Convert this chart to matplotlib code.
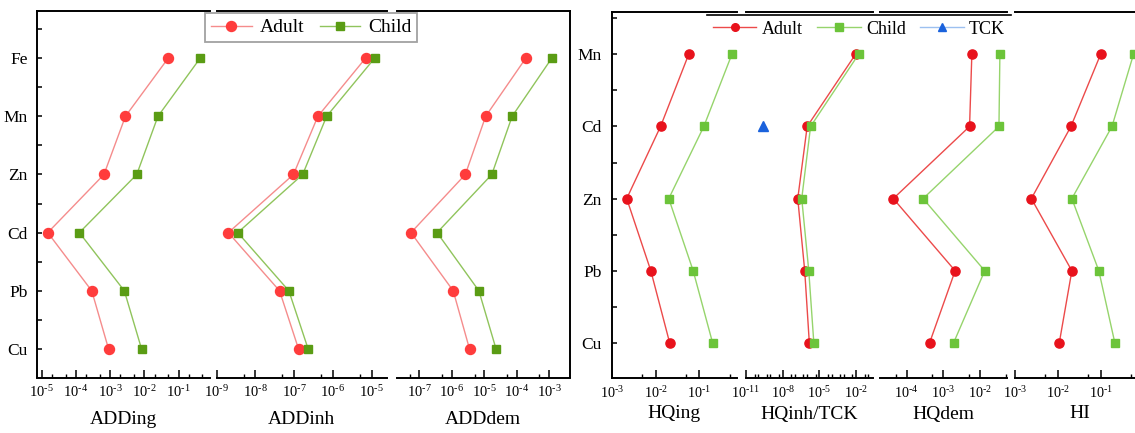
import numpy as np
import matplotlib
matplotlib.use("Agg")
import matplotlib.pyplot as plt
from matplotlib.ticker import FixedLocator, FuncFormatter, NullFormatter
from matplotlib.lines import Line2D

plt.rcParams['font.family'] = ['Liberation Serif', 'DejaVu Serif']
plt.rcParams['mathtext.fontset'] = 'custom'
plt.rcParams['mathtext.rm'] = 'Liberation Serif'
plt.rcParams['mathtext.default'] = 'regular'

# ---------------- data ----------------
left_cats = ['Fe', 'Mn', 'Zn', 'Cd', 'Pb', 'Cu']          # top -> bottom
add_ing_adult = [0.05, 2.8e-3, 6.6e-4, 1.5e-5, 2.9e-4, 9e-4]
add_ing_child = [0.43, 0.025, 6e-3, 1.26e-4, 2.6e-3, 8.3e-3]
add_inh_adult = [7e-6, 4.1e-7, 9.6e-8, 2e-9, 4.2e-8, 1.3e-7]
add_inh_child = [1.2e-5, 6.9e-7, 1.66e-7, 3.5e-9, 7.3e-8, 2.3e-7]
add_dem_adult = [1.9e-4, 1.1e-5, 2.6e-6, 5.5e-8, 1.1e-6, 3.5e-6]
add_dem_child = [1.2e-3, 7.2e-5, 1.7e-5, 3.5e-7, 6.8e-6, 2.3e-5]

right_cats = ['Mn', 'Cd', 'Zn', 'Pb', 'Cu']               # top -> bottom
hq_ing_adult = [0.057, 0.013, 2.2e-3, 7.8e-3, 0.021]
hq_ing_child = [0.55, 0.126, 0.02, 0.072, 0.2]
hq_inh_adult = [9e-3, 1e-6, 1.7e-7, 6.3e-7, 1.5e-6]
hq_inh_child = [0.016, 1.9e-6, 3.6e-7, 1.35e-6, 3.5e-6]
tck_values = [np.nan, 2.5e-10, np.nan, np.nan, np.nan]
hq_dem_adult = [6e-3, 5.2e-3, 4.3e-5, 2.1e-3, 4.2e-4]
hq_dem_child = [0.035, 0.033, 2.8e-4, 0.0135, 1.9e-3]
hi_adult = [0.098, 0.02, 2.4e-3, 0.021, 0.0107]
hi_child = [0.57, 0.18, 0.021, 0.089, 0.21]

left_titles = ['ADDing', 'ADDinh', 'ADDdem']
right_titles = ['HQing', 'HQinh/TCK', 'HQdem', 'HI']

# ---------------- figure ----------------
W, H = 1135, 433
fig = plt.figure(figsize=(W / 100, H / 100), dpi=100)

def make_ax(x0, x1, yt, yb):
    return fig.add_axes([x0 / W, 1 - yb / H, (x1 - x0) / W, (yb - yt) / H])

def make_fmt(shown):
    def fmt_pow(v, p):
        e = int(round(np.log10(v)))
        if e not in shown:
            return ''
        if e < 0:
            return r'$10^{\text{-}%d}$' % (-e)
        return r'$10^{%d}$' % e
    return fmt_pow

def style_ax(ax, xlim, label_exps, minor_exps, first, last, ncat, ylim, xlabel, label_y,
             ticklab_size=10.5, xlab_size=14.0, shown=None):
    ax.set_xscale('log')
    ax.set_xlim(10 ** xlim[0], 10 ** xlim[1])
    ax.set_ylim(*ylim)
    for s in ['top', 'bottom', 'left', 'right']:
        ax.spines[s].set_linewidth(1.4)
    ax.spines['left'].set_visible(first)
    ax.spines['right'].set_visible(last)
    ax.xaxis.set_major_locator(FixedLocator([10.0 ** e for e in label_exps]))
    ax.xaxis.set_major_formatter(FuncFormatter(make_fmt(shown if shown else label_exps)))
    ax.xaxis.set_minor_locator(FixedLocator(minor_exps))
    ax.xaxis.set_minor_formatter(NullFormatter())
    ax.tick_params(axis='x', which='major', direction='in', length=5.5, width=1.1,
                   labelsize=ticklab_size, pad=5, top=False)
    ax.tick_params(axis='x', which='minor', direction='in', length=3, width=1.0, top=False)
    if first:
        ax.yaxis.set_major_locator(FixedLocator(range(ncat)))
        ax.yaxis.set_minor_locator(FixedLocator([i + 0.5 for i in range(ncat)]))
        ax.tick_params(axis='y', which='both', direction='in', length=3.5, width=1.1,
                       labelsize=12.5, pad=7, right=False)
    else:
        ax.tick_params(axis='y', which='both', left=False, right=False, labelleft=False)
    ax.set_xlabel(xlabel, fontsize=xlab_size)
    ax.xaxis.label.set_va('center')
    ax.xaxis.set_label_coords(0.5, label_y)
    ax.set_facecolor('none')

# ---------------- left panel ----------------
yt_l, yb_l = 11, 377.5
nl = len(left_cats)
yl = [nl - 1 - i for i in range(nl)]
ylim_l = (-0.49, 5.81)
lab_y_l = -(420 - yb_l) / (yb_l - yt_l)

left_geo = [(37.3, 210.0, (-5.13, -0.08), [-5, -4, -3, -2, -1]),
            (216.7, 386.7, (-9.0, -4.61), [-9, -8, -7, -6, -5]),
            (396.7, 570.0, (-7.70, -2.36), [-7, -6, -5, -4, -3])]
left_data = [(add_ing_adult, add_ing_child),
             (add_inh_adult, add_inh_child),
             (add_dem_adult, add_dem_child)]

adult_l_mk, adult_l_ln = '#ff3c3c', '#f58c8c'
child_l_mk, child_l_ln = '#5a9c14', '#90c45c'

left_axes = []
for i, ((x0, x1, xl, exps), (ad, ch)) in enumerate(zip(left_geo, left_data)):
    ax = make_ax(x0, x1, yt_l, yb_l)
    minors = [5 * 10.0 ** e for e in range(int(np.floor(xl[0])) - 1, int(np.ceil(xl[1])) + 1)]
    if i == 0:
        minors += [2 * 10.0 ** e for e in range(-6, 1)]
    style_ax(ax, xl, exps, minors, i == 0, i == 2, nl, ylim_l, left_titles[i], lab_y_l)
    if i == 0:
        ax.set_yticks(range(nl))
        ax.set_yticklabels(left_cats[::-1])
    ax.plot(ad, yl, '-', color=adult_l_ln, lw=1.0, marker='o', ms=7.2,
            mfc=adult_l_mk, mec=adult_l_mk, label='Adult', clip_on=False)
    ax.plot(ch, yl, '-', color=child_l_ln, lw=1.0, marker='s', ms=6.0,
            mfc=child_l_mk, mec=child_l_mk, label='Child', clip_on=False)
    left_axes.append(ax)

h, l = left_axes[0].get_legend_handles_labels()
leg1 = fig.legend(h, l, loc='upper left', bbox_to_anchor=(205 / W, 1 - 13 / H),
                  ncol=2, fontsize=14, frameon=True, fancybox=False, edgecolor='#8a8a8a',
                  borderaxespad=0, borderpad=0.3, handlelength=2.1, handletextpad=0.4,
                  columnspacing=0.8)
leg1.get_frame().set_linewidth(1.3)

# ---------------- right panel ----------------
yt_r, yb_r = 11.7, 378.3
nr = len(right_cats)
yr = [nr - 1 - i for i in range(nr)]
ylim_r = (-0.49, 4.59)
lab_y_r = -(414 - yb_r) / (yb_r - yt_r)

right_geo = [(611.7, 736.7, (-3.0, -0.15), [-3, -2, -1], None),
             (746.0, 873.0, (-11.0, -0.62), [-11, -8, -5, -2], None),
             (880.0, 1006.7, (-4.73, -1.27), [-4, -3, -2], None),
             (1015.0, 1144.0, (-3.0, 0.0), [-3, -2, -1, 0], [-3, -2, -1])]
right_data = [(hq_ing_adult, hq_ing_child),
              (hq_inh_adult, hq_inh_child),
              (hq_dem_adult, hq_dem_child),
              (hi_adult, hi_child)]

adult_r_mk, adult_r_ln = '#e8121c', '#ec4a4a'
child_r_mk, child_r_ln = '#6cc43a', '#96d46c'
tck_mk, tck_ln = '#1a62dc', '#9cc0f0'

right_axes = []
for i, ((x0, x1, xl, exps, shown), (ad, ch)) in enumerate(zip(right_geo, right_data)):
    ax = make_ax(x0, x1, yt_r, yb_r)
    minors = [5 * 10.0 ** e for e in range(int(np.floor(xl[0])) - 1, int(np.ceil(xl[1])) + 1)]
    if i == 1:
        minors += [10.0 ** e for e in range(-12, 1) if e not in exps]
    style_ax(ax, xl, exps, minors, i == 0, False, nr, ylim_r, right_titles[i], lab_y_r,
             ticklab_size=10.3, xlab_size=14.0, shown=shown)
    if i == 0:
        ax.set_yticks(range(nr))
        ax.set_yticklabels(right_cats[::-1])
    ax.plot(ad, yr, '-', color=adult_r_ln, lw=1.0, marker='o', ms=6.6,
            mfc=adult_r_mk, mec=adult_r_mk, label='Adult', clip_on=False)
    ax.plot(ch, yr, '-', color=child_r_ln, lw=1.0, marker='s', ms=5.4,
            mfc=child_r_mk, mec=child_r_mk, label='Child', clip_on=False)
    if i == 1:
        ax.plot(tck_values, yr, '-', color=tck_ln, lw=1.0, marker='^', ms=6.5,
                mfc=tck_mk, mec=tck_mk, label='TCK', clip_on=False)
    right_axes.append(ax)

h, l = right_axes[1].get_legend_handles_labels()
leg2 = fig.legend(h, l, loc='center left', bbox_to_anchor=(713 / W, 1 - 29 / H),
                  ncol=3, fontsize=13, frameon=False, borderaxespad=0, borderpad=0,
                  handlelength=2.4, handletextpad=0.3, columnspacing=0.8)
for hd in leg2.legend_handles:
    hd.set_markersize(5.5)

fig.add_artist(Line2D([707 / W, 1011 / W], [1 - 15 / H, 1 - 15 / H],
                      color='black', lw=1.2, transform=fig.transFigure))

fig.savefig('out.png', dpi=100)
